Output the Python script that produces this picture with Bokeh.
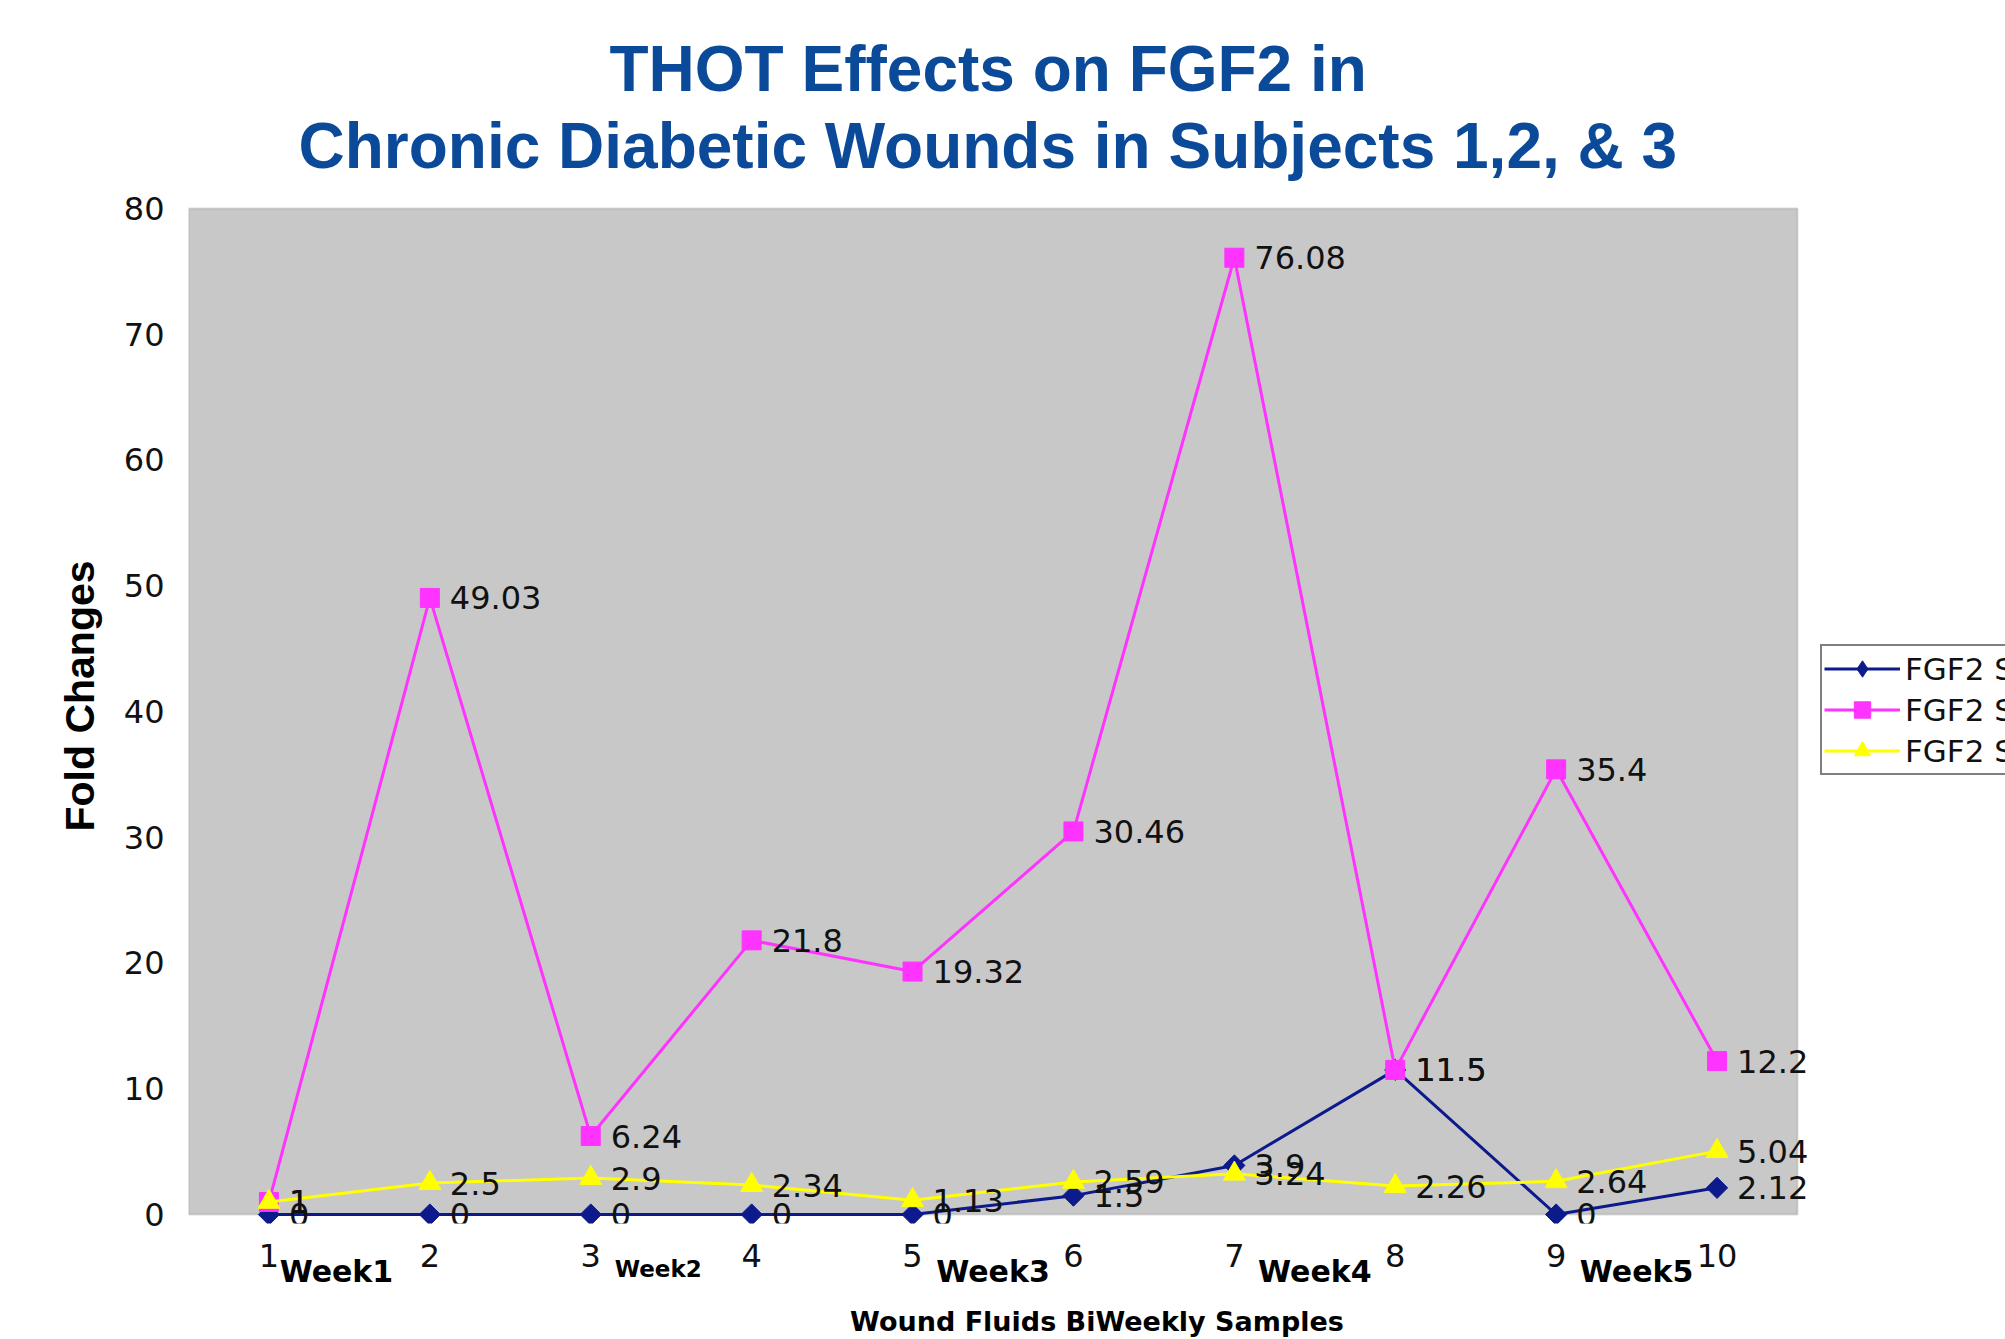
import math
from bokeh.plotting import figure
from bokeh.models import (ColumnDataSource, FixedTicker, Legend, LegendItem,
                          LabelSet, LinearAxis, Title, BoxAnnotation, Range1d,
                          CDSView, BooleanFilter)
from bokeh.core.properties import value
from bokeh.embed import file_html
from bokeh.resources import INLINE

# ---------------- data ----------------
samples = [1, 2, 3, 4, 5, 6, 7, 8, 9, 10]
subject1 = [0, 0, 0, 0, 0, 1.5, 3.9, 11.5, 0, 2.12]
subject2 = [1, 49.03, 6.24, 21.8, 19.32, 30.46, 76.08, 11.5, 35.4, 12.2]
subject3 = [1, 2.5, 2.9, 2.34, 1.13, 2.59, 3.24, 2.26, 2.64, 5.04]
series_names = ["FGF2 Subject 1", "FGF2 Subject 2", "FGF2 Subject 3"]
week_labels = ["Week1", "Week2", "Week3", "Week4", "Week5"]
y_ticks = [0, 10, 20, 30, 40, 50, 60, 70, 80]
title_line1 = "THOT Effects on FGF2 in"
title_line2 = "Chronic Diabetic Wounds in Subjects 1,2, & 3"
x_title = "Wound Fluids BiWeekly Samples"
y_title = "Fold Changes"

# ---------------- styles / layout (pixels) ----------------
colors = ["#0d1a8c", "#ff33ff", "#ffff00"]
markers = ["square", "square", "triangle"]
marker_angles = [math.pi / 4, 0, 0]
marker_sizes = [15, 19, 22]
legend_markers = ["diamond", "square", "triangle"]
week_shift_px = [-13, -13, 0, 0, 0]
TITLE_BLUE = "#0b4a99"
W, H = 2005, 1339
AREA_L, AREA_R, AREA_T, AREA_B = 188, 1797, 208, 1215   # grey plot area on the page
BELOW_PAD = 9      # room for markers sitting on 0
ABOVE_PAD = 40     # lifts the centre of the y-axis title like the original

x0, x1 = samples[0] - 0.5, samples[-1] + 0.5
y0, y1 = y_ticks[0], y_ticks[-1]
px_per_x = (AREA_R - AREA_L) / (x1 - x0)
px_per_y = (AREA_B - AREA_T) / (y1 - y0)
x_end = x0 + (W - AREA_L) / px_per_x
y_start = y0 - BELOW_PAD / px_per_y
y_end = y1 + ABOVE_PAD / px_per_y

p = figure(width=W, height=H, x_range=Range1d(x0, x_end), y_range=Range1d(y_start, y_end),
           output_backend="svg", toolbar_location=None,
           min_border_left=AREA_L, min_border_right=0,
           min_border_top=AREA_T - ABOVE_PAD, min_border_bottom=H - AREA_B - BELOW_PAD,
           background_fill_color="white", border_fill_color="white",
           outline_line_color=None)

# grey plot area
p.add_layout(BoxAnnotation(left=x0, right=x1, bottom=y0, top=y1,
                           fill_color="#c8c8c8", fill_alpha=1,
                           line_color="#8e8e8e", line_width=2, level="underlay"))

# two title lines
p.title.text = title_line1
p.title.text_font = "Liberation Sans"
p.title.text_font_style = "bold"
p.title.text_font_size = "64px"
p.title.text_color = TITLE_BLUE
p.title.align = "left"
p.title.offset = 421
p.title.standoff = -49 + 2 * ABOVE_PAD
t2 = Title(text=title_line2, text_font="Liberation Sans", text_font_style="bold",
           text_font_size="64px", text_color=TITLE_BLUE, align="left",
           offset=110, standoff=54 - 2 * ABOVE_PAD)
p.add_layout(t2, "above")

p.grid.visible = False

# x axis: sample numbers
p.xaxis.ticker = FixedTicker(ticks=samples)
p.xaxis.major_label_text_font = "DejaVu Sans"
p.xaxis.major_label_text_font_size = "32px"
p.xaxis.major_label_text_color = "#111111"
p.xaxis.major_tick_line_color = None
p.xaxis.minor_tick_line_color = None
p.xaxis.axis_line_color = None
p.xaxis.major_label_standoff = 14

# week axes (Week2 is printed smaller in the original)
week_x = [(samples[2 * i] + samples[2 * i + 1]) / 2 + week_shift_px[i] / px_per_x
          for i in range(len(week_labels))]
big_idx = [0, 2, 3, 4]
small_idx = [1]


def week_axis(idx, size, standoff, **kw):
    ticks = [week_x[i] for i in idx]
    return LinearAxis(ticker=FixedTicker(ticks=ticks),
                      major_label_overrides={week_x[i]: week_labels[i] for i in idx},
                      major_label_text_font="DejaVu Sans",
                      major_label_text_font_style="bold",
                      major_label_text_font_size=size,
                      major_label_text_color="black",
                      major_label_standoff=standoff,
                      axis_line_color=None, major_tick_line_color=None,
                      minor_tick_line_color=None, **kw)


p.add_layout(week_axis(big_idx, "30px", -22), "below")
p.add_layout(week_axis(small_idx, "23px", -42,
                       axis_label=x_title, axis_label_standoff=21,
                       axis_label_text_font="DejaVu Sans",
                       axis_label_text_font_style="bold",
                       axis_label_text_font_size="27px",
                       axis_label_text_color="black"), "below")

# y axis
p.yaxis.ticker = FixedTicker(ticks=y_ticks)
p.yaxis.major_label_text_font = "DejaVu Sans"
p.yaxis.major_label_text_font_size = "32px"
p.yaxis.major_label_text_color = "#111111"
p.yaxis.major_tick_line_color = None
p.yaxis.minor_tick_line_color = None
p.yaxis.axis_line_color = None
p.yaxis.major_label_standoff = 18
p.yaxis.axis_label = y_title
p.yaxis.axis_label_text_font = "Liberation Sans"
p.yaxis.axis_label_text_font_style = "bold"
p.yaxis.axis_label_text_font_size = "41px"
p.yaxis.axis_label_text_color = "black"
p.yaxis.axis_label_standoff = 18

items = []
all_series = [subject1, subject2, subject3]
for name, vals, col, mk, ang, ms, lmk in zip(series_names, all_series, colors, markers,
                                             marker_angles, marker_sizes, legend_markers):
    src = ColumnDataSource(dict(x=samples, y=vals,
                                lbl=[f"{v:g}" for v in vals]))
    ln = p.line("x", "y", source=src, line_color=col, line_width=3)
    sc = p.scatter("x", "y", source=src, marker=mk, angle=ang, size=ms,
                   fill_color=col, line_color=col)
    p.add_layout(LabelSet(x="x", y="y", text="lbl", source=src, x_offset=20,
                          text_align="left", text_baseline="middle",
                          text_font=value("DejaVu Sans"), text_font_size="32px",
                          text_color="#111111"))
    if lmk == mk and ang == 0:
        key = sc
    else:
        # legend key marker, shown only at the first sample (under the other markers)
        key = p.scatter("x", "y", source=src, marker=lmk, size=ms,
                        fill_color=col, line_color=col,
                        view=CDSView(filter=BooleanFilter([True] + [False] * (len(vals) - 1))))
    items.append(LegendItem(label=name, renderers=[ln, key]))

legend = Legend(items=items, location=(1820 - AREA_L, AREA_B + BELOW_PAD - 776),
                label_text_font="DejaVu Sans", label_text_font_size="31px",
                label_text_color="#111111",
                glyph_width=76, glyph_height=41, label_height=32,
                spacing=0, padding=2, margin=0, label_standoff=5,
                border_line_color="black", border_line_width=2,
                background_fill_color="white", background_fill_alpha=1)
p.add_layout(legend)

open("out.html", "w").write(file_html(p, INLINE))
